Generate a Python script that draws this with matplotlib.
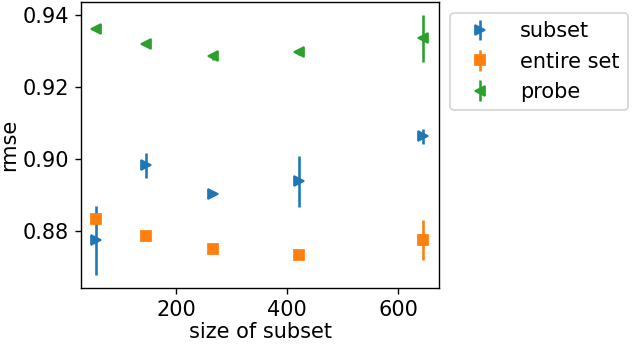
import matplotlib
matplotlib.use("Agg")
import matplotlib.pyplot as plt

sizes = [57, 147, 266, 422, 644]

subset = [0.8774, 0.8983, 0.8904, 0.8938, 0.9063]
subset_err = [0.0095, 0.0035, 0.0008, 0.0070, 0.0020]

entire = [0.8834, 0.8785, 0.8749, 0.8734, 0.8775]
entire_err = [0.0008, 0.0006, 0.0006, 0.0010, 0.0055]

probe = [0.9360, 0.9320, 0.9285, 0.9296, 0.9335]
probe_err = [0.0003, 0.0004, 0.0009, 0.0008, 0.0065]

DPI = 125
plt.rcParams['font.size'] = 12
fig = plt.figure(figsize=(632 / DPI, 344 / DPI), dpi=DPI)
ax = fig.add_axes([0.128, 0.163, 0.567, 0.831])

ax.errorbar(sizes, subset, yerr=subset_err, fmt='>', label='subset')
ax.errorbar(sizes, entire, yerr=entire_err, fmt='s', label='entire set')
ax.errorbar(sizes, probe, yerr=probe_err, fmt='<', label='probe')

ax.set_xlim(29, 674)
ax.set_ylim(0.8642, 0.9436)
ax.set_yticks([0.88, 0.90, 0.92, 0.94])
ax.set_xticks([200, 400, 600])
ax.set_xlabel('size of subset', labelpad=1)
ax.set_ylabel('rmse', labelpad=2)
ax.legend(loc='upper left', bbox_to_anchor=(1.031, 0.962), borderaxespad=0,
          handletextpad=0.95)

fig.savefig('out.png', dpi=DPI)
